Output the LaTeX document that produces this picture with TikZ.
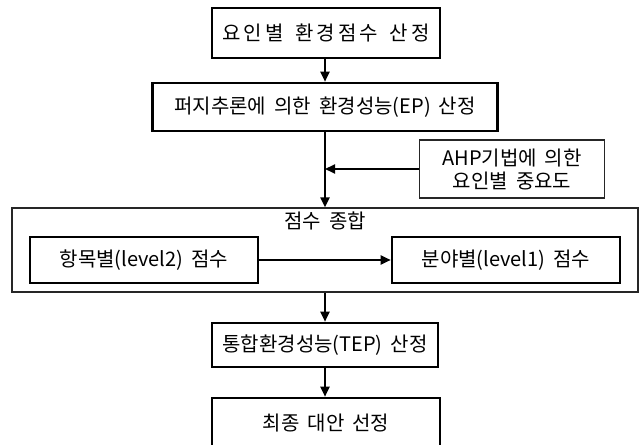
\documentclass[tikz,border=0pt]{standalone}
\usepackage{fontspec}
\setmainfont[WordSpace=1.8]{Noto Sans CJK KR}
\newfontfamily\widekr[LetterSpace=15,WordSpace=1.6]{Noto Sans CJK KR}
\usetikzlibrary{arrows.meta,positioning}
\begin{document}
\begin{tikzpicture}[x=1bp,y=-1bp,
  thickbox/.style={draw=black,line width=2.6bp,inner sep=0pt,font=\fontsize{20bp}{23bp}\selectfont},
  thinbox/.style={draw=black!85,line width=1.2bp,inner sep=0pt,font=\fontsize{20bp}{23bp}\selectfont},
  arr/.style={line width=2bp,-{Triangle[length=10bp,width=9bp]}},
  lbl/.style={inner sep=0pt,font=\fontsize{20bp}{23bp}\selectfont}]
\useasboundingbox (0,0) rectangle (641,445);
\fill[white] (0,0) rectangle (641,445);
\node[thickbox,minimum width=228bp,minimum height=50bp] (b1) at (326,33) {\widekr 요인별 환경점수 산정};
\node[thickbox,minimum width=345bp,minimum height=48bp] (b2) at (325,107) {퍼지추론에 의한 환경성능(EP) 산정};
\node[thinbox,minimum width=185bp,minimum height=58bp,align=center] (ahp) at (512,169) {AHP기법에 의한\\요인별 중요도};
\node[thinbox,minimum width=626bp,minimum height=84bp] (main) at (325,250) {};
\node[lbl] (title) at (325,221) {점수 종합};
\node[thickbox,minimum width=228bp,minimum height=46bp] (in1) at (144,260) {항목별(level2) 점수};
\node[thickbox,minimum width=228bp,minimum height=46bp] (in2) at (506,260) {분야별(level1) 점수};
\node[thickbox,minimum width=226bp,minimum height=44bp] (tep) at (325,345) {통합환경성능(TEP) 산정};
\node[thickbox,minimum width=228bp,minimum height=50bp] (fin) at (326,423) {최종 대안 선정};
\draw[arr] (b1.south -| b2.north) -- (b2.north);
\draw[arr] (b2.south) -- (b2.south |- main.north);
\draw[arr] (ahp.west) -- (ahp.west -| b2.south);
\draw[arr] (in1.east) -- (in2.west);
\draw[arr] (main.south) -- (tep.north);
\draw[arr] (tep.south) -- (fin.north -| tep.south);
\end{tikzpicture}
\end{document}
